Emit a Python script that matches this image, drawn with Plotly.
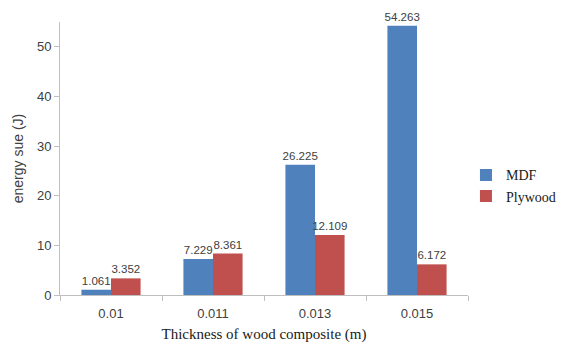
import plotly.graph_objects as go

categories = ["0.01", "0.011", "0.013", "0.015"]
mdf = [1.061, 7.229, 26.225, 54.263]
plywood = [3.352, 8.361, 12.109, 6.172]
mdf_labels = ["1.061", "7.229", "26.225", "54.263"]
plywood_labels = ["3.352", "8.361", "12.109", "6.172"]

label_font = dict(family="Liberation Sans, Arial", size=11.5, color="#404040")

fig = go.Figure()
fig.add_trace(go.Bar(x=categories, y=mdf, name="MDF", marker_color="#4F81BD",
                     marker_line_width=0, text=mdf_labels, textposition="outside",
                     cliponaxis=False, constraintext="none", textfont=label_font))
fig.add_trace(go.Bar(x=categories, y=plywood, name="Plywood", marker_color="#C0504D",
                     marker_line_width=0, text=plywood_labels, textposition="outside",
                     cliponaxis=False, constraintext="none", textfont=label_font))

fig.update_layout(
    width=565, height=347,
    margin=dict(l=60, r=97, t=22, b=52, autoexpand=False),
    paper_bgcolor="white", plot_bgcolor="white",
    barmode="group", bargap=0.42, bargroupgap=0,
    legend=dict(x=0.995, y=0.40, xanchor="left", yanchor="middle",
                font=dict(family="Liberation Serif, Times New Roman", size=14, color="#202020"),
                itemwidth=30, tracegroupgap=6, bgcolor="rgba(0,0,0,0)"),
    showlegend=True,
)
fig.update_xaxes(
    type="category", showline=True, linecolor="#BFBFBF", linewidth=1,
    ticks="outside", tickson="boundaries", ticklen=5, tickcolor="#BFBFBF",
    ticklabelstandoff=6,
    tickfont=dict(family="Liberation Sans, Arial", size=13, color="#404040"),
    title=dict(text="Thickness of wood composite (m)", standoff=8,
               font=dict(family="Liberation Serif, Times New Roman", size=15, color="#202020")),
    showgrid=False,
)
fig.update_yaxes(
    range=[0, 55], dtick=10, showline=True, linecolor="#BFBFBF", linewidth=1,
    ticks="outside", ticklen=5, tickcolor="#BFBFBF",
    tickfont=dict(family="Liberation Sans, Arial", size=13, color="#404040"),
    title=dict(text="energy sue (J)", standoff=10,
               font=dict(family="Liberation Sans, Arial", size=14, color="#404040")),
    showgrid=False, zeroline=False,
)

fig.write_html("out.html")
